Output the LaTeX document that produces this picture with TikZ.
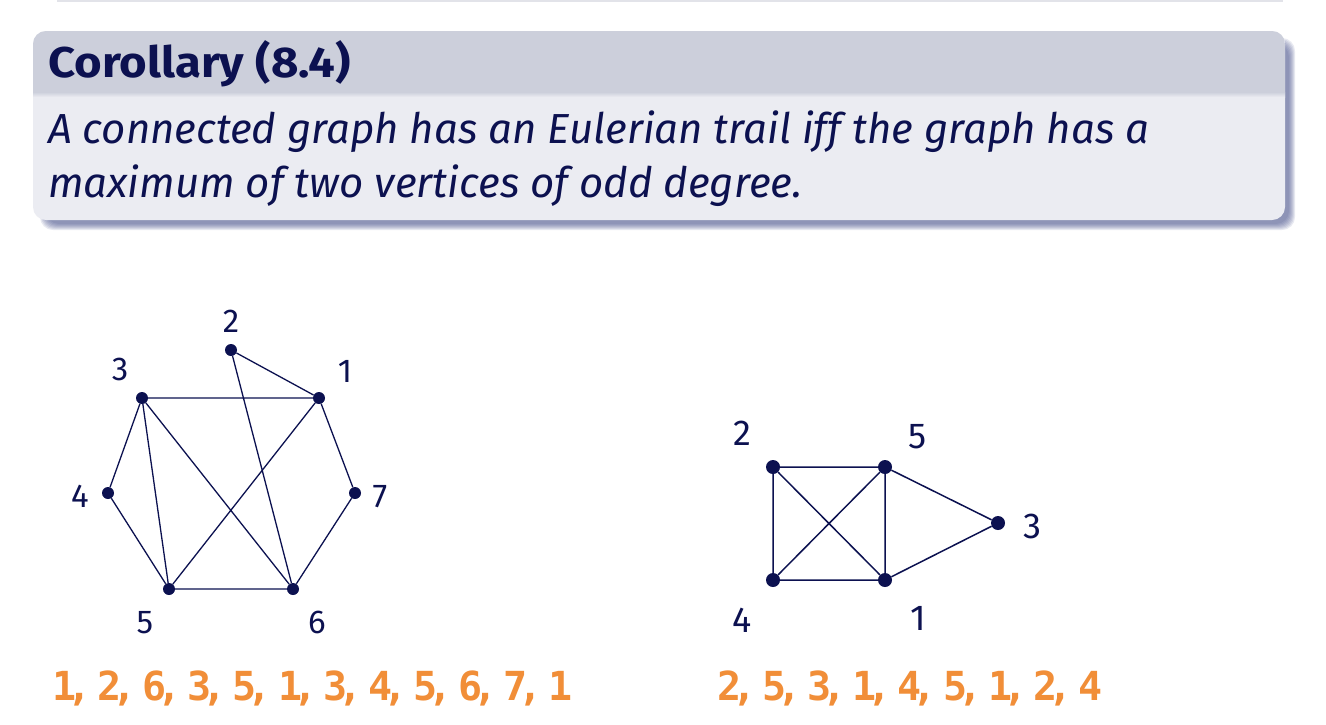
\documentclass[tikz,border=0pt]{standalone}
\usepackage{fontspec}
\setmainfont{Fira Sans}
\newfontfamily\seqfont[BoldFont={DejaVu Sans Mono Bold}]{DejaVu Sans Mono}
\newfontfamily\titlefont[FakeStretch=1.1]{Fira Sans}
\definecolor{navy}{RGB}{12,17,80}
\definecolor{hdrcol}{RGB}{204,207,219}
\definecolor{bodycol}{RGB}{235,236,242}
\definecolor{shadcol}{RGB}{70,80,140}
\definecolor{seqcol}{RGB}{241,142,56}
\definecolor{topline}{RGB}{226,227,233}
\newcommand\cma{\kern-9pt,\kern6pt}
\tikzset{
  dotL/.style={circle, fill=navy, draw=none, inner sep=0pt, minimum size=12pt},
  dotR/.style={circle, fill=navy, draw=none, inner sep=0pt, minimum size=14pt},
  edgeL/.style={draw=navy, line width=1.3pt},
  edgeR/.style={draw=navy, line width=1.5pt},
  labL/.style={anchor=base, inner sep=0pt, text=navy, font=\fontsize{33}{40}\selectfont},
  labR/.style={anchor=base, inner sep=0pt, text=navy, font=\fontsize{36}{43}\selectfont},
  seqtext/.style={anchor=base west, inner sep=0pt, text=seqcol},
  bodytext/.style={anchor=base west, inner sep=0pt, text=navy, font=\fontsize{42}{50}\selectfont\itshape},
  titletext/.style={anchor=base west, inner sep=0pt, text=navy}
}
\begin{document}
\begin{tikzpicture}[x=1pt,y=-1pt]
\useasboundingbox (0,0) rectangle (1326,724);
\fill[white] (0,0) rectangle (1326,724);
% remnant of previous block
\draw[topline, line width=2.5pt] (57,0.8) -- (1283,0.8);
% shadow
\foreach \i in {0,...,6}{
  \fill[shadcol, opacity=0.12, rounded corners=13pt] (46-\i,44-\i) rectangle (1289+\i,224+\i);
}
% block
\fill[bodycol, rounded corners=13pt] (33,31) rectangle (1285,220);
\begin{scope}
  \clip[rounded corners=13pt] (33,31) rectangle (1285,220);
  \fill[hdrcol] (33,31) rectangle (1285,92);
  \fill[bottom color=bodycol, top color=hdrcol] (33,92) rectangle (1285,97);
\end{scope}
\node[titletext] (title) at (48,77) {\fontsize{43}{50}\titlefont\bfseries Corollary (8.4)};
\node[bodytext] (line1) at (48,143) {A connected graph has an Eulerian trail iff the graph has a};
\node[bodytext] (line2) at (48,197) {maximum of two vertices of odd degree.};
% left graph
\node[dotL] (a1) at (319,398) {};
\node[dotL] (a2) at (231,350) {};
\node[dotL] (a3) at (142,398) {};
\node[dotL] (a4) at (108,493) {};
\node[dotL] (a5) at (169,589) {};
\node[dotL] (a6) at (293,589) {};
\node[dotL] (a7) at (355,493) {};
\path[edgeL] (a1) -- (a2) (a2) -- (a6) (a6) -- (a3) (a3) -- (a5) (a5) -- (a1)
  (a1) -- (a3) (a3) -- (a4) (a4) -- (a5) (a5) -- (a6) (a6) -- (a7) (a7) -- (a1);
\node[labL] (la1) at (345,382) {1};
\node[labL] (la2) at (231,332) {2};
\node[labL] (la3) at (120,380) {3};
\node[labL] (la4) at (80,507) {4};
\node[labL] (la5) at (145,633) {5};
\node[labL] (la6) at (317,633) {6};
\node[labL] (la7) at (380,507) {7};
% right graph
\node[dotR] (b1) at (885,580) {};
\node[dotR] (b2) at (773,467) {};
\node[dotR] (b3) at (998,523) {};
\node[dotR] (b4) at (773,580) {};
\node[dotR] (b5) at (885,467) {};
\path[edgeR] (b2) -- (b5) (b5) -- (b3) (b3) -- (b1) (b1) -- (b4) (b4) -- (b5)
  (b5) -- (b1) (b1) -- (b2) (b2) -- (b4);
\node[labR] (lb1) at (918,630) {1};
\node[labR] (lb2) at (742,445) {2};
\node[labR] (lb3) at (1032,538) {3};
\node[labR] (lb4) at (742,632) {4};
\node[labR] (lb5) at (918,448) {5};
% sequences
\node[seqtext] (seqA) at (52,700) {\fontsize{40}{48}\seqfont\bfseries 1\cma 2\cma 6\cma 3\cma 5\cma 1\cma 3\cma 4\cma 5\cma 6\cma 7\cma 1};
\node[seqtext] (seqB) at (717,700) {\fontsize{40}{48}\seqfont\bfseries 2\cma 5\cma 3\cma 1\cma 4\cma 5\cma 1\cma 2\cma 4};
\end{tikzpicture}
\end{document}
